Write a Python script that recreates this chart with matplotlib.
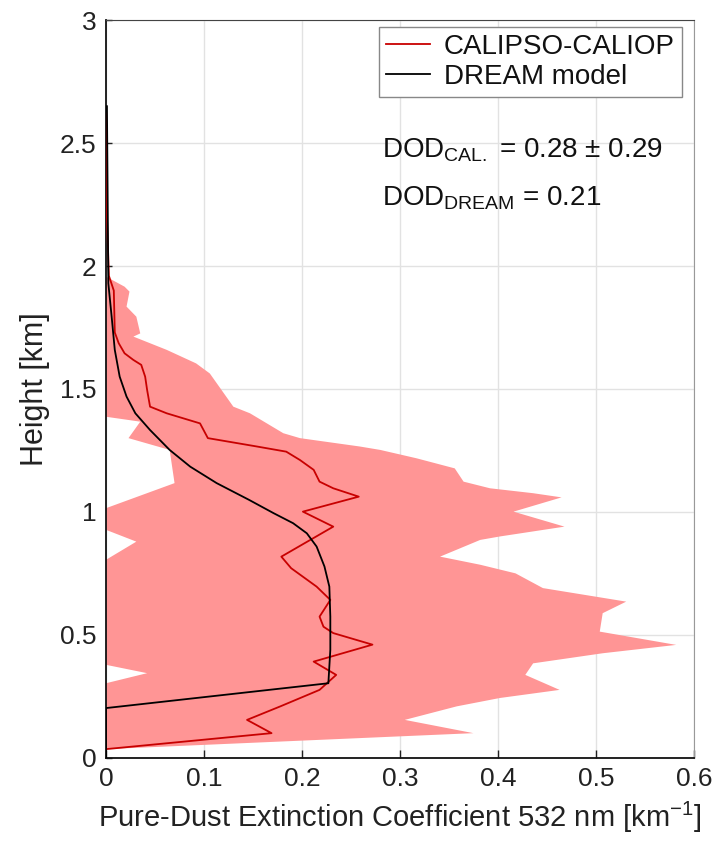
import numpy as np
import matplotlib
matplotlib.use("Agg")
import matplotlib.pyplot as plt

plt.rcParams["font.family"] = ["Liberation Sans", "DejaVu Sans"]
plt.rcParams["mathtext.default"] = "regular"

# CALIPSO-CALIOP mean pure-dust extinction profile (height km, extinction km^-1)
cal_height = [2.62, 2.20, 1.96, 1.90, 1.73, 1.686, 1.645, 1.618, 1.598, 1.550,
              1.496, 1.428, 1.401, 1.360, 1.300, 1.266, 1.245, 1.211, 1.171,
              1.123, 1.096, 1.062, 1.001, 0.940, 0.818, 0.771, 0.696, 0.642,
              0.574, 0.533, 0.507, 0.460, 0.391, 0.337, 0.276, 0.209, 0.154,
              0.100, 0.035]
cal_mean = [0.000, 0.001, 0.003, 0.008, 0.009, 0.013, 0.019, 0.028, 0.036, 0.040,
            0.042, 0.045, 0.062, 0.096, 0.104, 0.154, 0.184, 0.198, 0.212,
            0.218, 0.232, 0.258, 0.201, 0.232, 0.179, 0.189, 0.215, 0.229,
            0.218, 0.222, 0.232, 0.272, 0.212, 0.235, 0.218, 0.178, 0.144,
            0.169, 0.000]

# Upper edge of the mean + std envelope
env_upper_height = [1.957, 1.916, 1.896, 1.835, 1.794, 1.726, 1.713, 1.659, 1.604,
                    1.563, 1.428, 1.401, 1.320, 1.300, 1.266, 1.252, 1.218, 1.177,
                    1.123, 1.096, 1.076, 1.059, 1.001, 0.940, 0.900, 0.886, 0.818,
                    0.785, 0.750, 0.690, 0.635, 0.588, 0.513, 0.459, 0.425, 0.384,
                    0.337, 0.276, 0.243, 0.209, 0.154, 0.100, 0.035]
env_upper = [0.000, 0.019, 0.024, 0.021, 0.031, 0.035, 0.028, 0.062, 0.092,
             0.106, 0.130, 0.147, 0.181, 0.198, 0.259, 0.280, 0.317, 0.356,
             0.365, 0.392, 0.436, 0.465, 0.416, 0.468, 0.402, 0.382, 0.341,
             0.382, 0.418, 0.446, 0.531, 0.507, 0.504, 0.582, 0.507, 0.436,
             0.428, 0.463, 0.402, 0.358, 0.305, 0.375, 0.000]

# Lower edge of the envelope (mean - std, clipped at zero)
env_lower_height = [1.957, 1.387, 1.367, 1.300, 1.252, 1.117, 1.015, 0.927,
                    0.879, 0.805, 0.378, 0.344, 0.303, 0.035]
env_lower = [0.000, 0.000, 0.035, 0.023, 0.065, 0.070, 0.000, 0.000,
             0.031, 0.000, 0.000, 0.042, 0.000, 0.000]

# DREAM model profile
dream_height = [2.65, 1.93, 1.794, 1.659, 1.550, 1.469, 1.401, 1.333, 1.252,
                1.184, 1.117, 1.049, 0.995, 0.954, 0.913, 0.859, 0.778, 0.696,
                0.574, 0.439, 0.303, 0.202, 0.0]
dream_ext = [0.001, 0.0024, 0.0058, 0.009, 0.014, 0.021, 0.030, 0.045, 0.065,
             0.086, 0.113, 0.146, 0.171, 0.191, 0.205, 0.215, 0.223, 0.228,
             0.229, 0.229, 0.227, 0.000, 0.000]

x_ticks = [0, 0.1, 0.2, 0.3, 0.4, 0.5, 0.6]
x_tick_labels = ["0", "0.1", "0.2", "0.3", "0.4", "0.5", "0.6"]
y_ticks = [0, 0.5, 1, 1.5, 2, 2.5, 3]
y_tick_labels = ["0", "0.5", "1", "1.5", "2", "2.5", "3"]

fig = plt.figure(figsize=(7.16, 8.41), dpi=100)
ax = fig.add_axes([0.148, 0.099, 0.821, 0.877])

# envelope polygon: upper edge top-down, then lower edge bottom-up
poly_x = np.r_[env_upper, env_lower[::-1]]
poly_y = np.r_[env_upper_height, env_lower_height[::-1]]
ax.fill(poly_x, poly_y, color="#FF9595", lw=0, zorder=2)

ax.plot(cal_mean, cal_height, color="#C80000", lw=1.3, zorder=3,
        label="CALIPSO-CALIOP")
ax.plot(dream_ext, dream_height, color="black", lw=1.3, zorder=4,
        label="DREAM model")

ax.set_xlim(0, 0.6)
ax.set_ylim(0, 3)
ax.set_xticks(x_ticks)
ax.set_xticklabels(x_tick_labels)
ax.set_yticks(y_ticks)
ax.set_yticklabels(y_tick_labels)
ax.tick_params(direction="in", length=6, width=1, labelsize=19, pad=7,
               colors="#222222")
ax.tick_params(axis="y", length=4)
ax.grid(True, color="#E2E2E2", lw=1, zorder=0)
ax.set_axisbelow(True)

for side in ("left", "bottom"):
    ax.spines[side].set_color("#111111")
    ax.spines[side].set_linewidth(1.3)
ax.spines["top"].set_color("#444444")
ax.spines["right"].set_color("#999999")

ax.set_xlabel("Pure-Dust Extinction Coefficient 532 nm [km$^{-1}$]",
              fontsize=21, color="#222222", labelpad=6)
ax.set_ylabel("Height [km]", fontsize=22, color="#222222", labelpad=7)

leg = ax.legend(loc="upper right", bbox_to_anchor=(0.98, 0.991), fontsize=20,
                handlelength=1.6, handletextpad=0.5, borderpad=0.25,
                labelspacing=0.15, borderaxespad=0, fancybox=False,
                framealpha=1, edgecolor="#888888")
leg.get_frame().set_linewidth(1.0)
for t in leg.get_texts():
    t.set_color("#111111")

ax.text(0.282, 2.44, "DOD$_{CAL.}$ = 0.28 ± 0.29", fontsize=20,
        color="#111111", va="baseline", zorder=5)
ax.text(0.282, 2.248, "DOD$_{DREAM}$ = 0.21", fontsize=20,
        color="#111111", va="baseline", zorder=5)

fig.savefig("out.png", dpi=100)
